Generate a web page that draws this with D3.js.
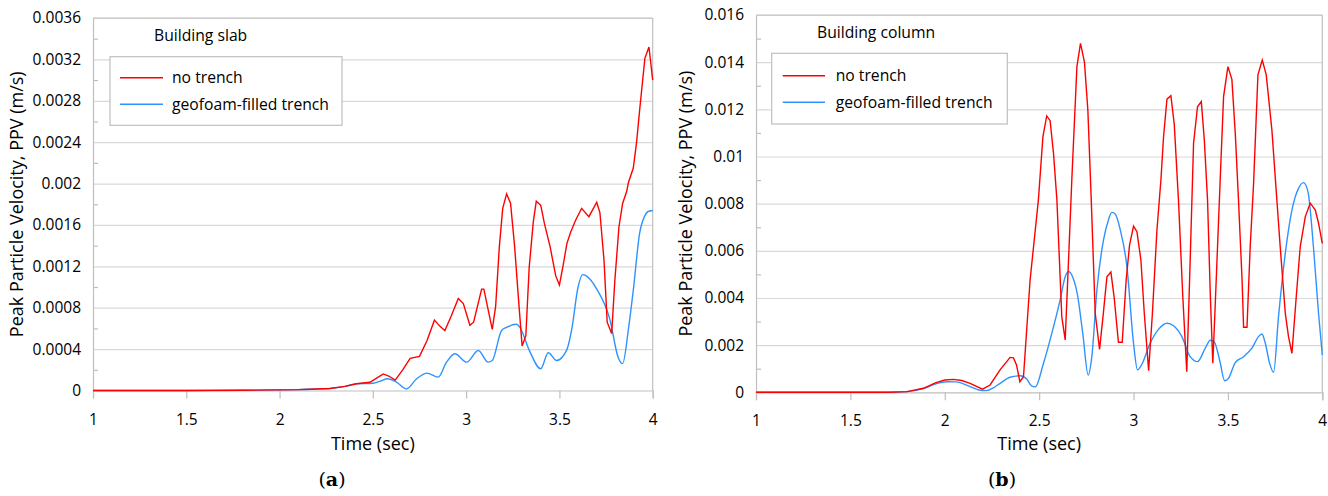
<!DOCTYPE html>
<html><head><meta charset="utf-8">
<script src="https://cdn.jsdelivr.net/npm/d3@7"></script>
<style>
body{margin:0;background:#fff}
svg{display:block}
text{font-family:"Open Sans",sans-serif;fill:#000}
</style>
</head><body>
<svg id="c" width="1328" height="496"></svg>
<script>
// ---------- data ----------
const xTicks = [1, 1.5, 2, 2.5, 3, 3.5, 4];
const xTickLabels = ["1", "1.5", "2", "2.5", "3", "3.5", "4"];
const seriesNames = ["no trench", "geofoam-filled trench"];

const slabYTicks = [0, 0.0004, 0.0008, 0.0012, 0.0016, 0.002, 0.0024, 0.0028, 0.0032, 0.0036];
const slabYTickLabels = ["0", "0.0004", "0.0008", "0.0012", "0.0016", "0.002", "0.0024", "0.0028", "0.0032", "0.0036"];
const columnYTicks = [0, 0.002, 0.004, 0.006, 0.008, 0.01, 0.012, 0.014, 0.016];
const columnYTickLabels = ["0", "0.002", "0.004", "0.006", "0.008", "0.01", "0.012", "0.014", "0.016"];

const slabNoTrenchTime = [1, 1.5, 1.8, 2.0, 2.1, 2.2, 2.27, 2.35, 2.413, 2.485, 2.52, 2.556, 2.585, 2.62, 2.66, 2.70, 2.75, 2.79, 2.83, 2.86, 2.886, 2.92, 2.958, 2.985, 3.02, 3.04, 3.083, 3.095, 3.14, 3.158, 3.178, 3.196, 3.217, 3.238, 3.26, 3.28, 3.30, 3.32, 3.338, 3.36, 3.376, 3.40, 3.42, 3.45, 3.48, 3.50, 3.52, 3.54, 3.56, 3.588, 3.619, 3.658, 3.70, 3.717, 3.739, 3.756, 3.78, 3.797, 3.819, 3.839, 3.86, 3.87, 3.896, 3.913, 3.93, 3.958, 3.98, 4.0];
const slabNoTrench = [0, 0, 0.000003, 0.000006, 0.000008, 0.000014, 0.00002, 0.00004, 0.000065, 0.00008, 0.00012, 0.00016, 0.00014, 0.0001, 0.0002, 0.00031, 0.00033, 0.00048, 0.00068, 0.00062, 0.00058, 0.00072, 0.00089, 0.00084, 0.00063, 0.00066, 0.00098, 0.00098, 0.00059, 0.00081, 0.00139, 0.00176, 0.0019, 0.00181, 0.00139, 0.0009, 0.00043, 0.00053, 0.00119, 0.00163, 0.00183, 0.00179, 0.00161, 0.00139, 0.00111, 0.00102, 0.00121, 0.00142, 0.00153, 0.00165, 0.00176, 0.00168, 0.00182, 0.00172, 0.00126, 0.00066, 0.00055, 0.00106, 0.00158, 0.00181, 0.00192, 0.00201, 0.00215, 0.00239, 0.00271, 0.00321, 0.00332, 0.003];

const slabGeofoamTime = [1, 1.5, 1.8, 2.0, 2.1, 2.2, 2.27, 2.35, 2.413, 2.50, 2.54, 2.58, 2.627, 2.68, 2.735, 2.79, 2.85, 2.895, 2.94, 3.003, 3.065, 3.118, 3.14, 3.19, 3.217, 3.27, 3.288, 3.338, 3.40, 3.44, 3.485, 3.539, 3.565, 3.60, 3.624, 3.642, 3.70, 3.77, 3.815, 3.839, 3.869, 3.896, 3.93, 3.958, 3.975, 4.0];
const slabGeofoam = [0, 0, 0.000003, 0.000006, 0.000008, 0.000014, 0.00002, 0.00004, 0.000065, 0.00007, 0.00009, 0.000113, 0.00008, 0.000016, 0.000113, 0.000168, 0.000129, 0.000274, 0.000355, 0.000274, 0.000387, 0.000274, 0.00029, 0.00058, 0.00061, 0.00064, 0.00061, 0.00039, 0.00021, 0.000365, 0.00029, 0.00039, 0.00058, 0.001, 0.00112, 0.00111, 0.00098, 0.00069, 0.00032, 0.00026, 0.00058, 0.00097, 0.00152, 0.00169, 0.00173, 0.00174];

const columnNoTrenchTime = [1, 1.5, 1.7, 1.8, 1.887, 1.95, 2.0, 2.046, 2.09, 2.134, 2.2, 2.24, 2.293, 2.346, 2.364, 2.38, 2.398, 2.417, 2.452, 2.496, 2.52, 2.54, 2.558, 2.576, 2.594, 2.62, 2.638, 2.655, 2.673, 2.70, 2.719, 2.74, 2.758, 2.776, 2.797, 2.82, 2.84, 2.859, 2.88, 2.897, 2.92, 2.94, 2.961, 2.979, 3.0, 3.018, 3.039, 3.057, 3.08, 3.1, 3.124, 3.145, 3.159, 3.177, 3.198, 3.216, 3.238, 3.261, 3.282, 3.297, 3.318, 3.339, 3.359, 3.375, 3.392, 3.407, 3.42, 3.431, 3.459, 3.477, 3.5, 3.521, 3.539, 3.556, 3.575, 3.583, 3.601, 3.618, 3.636, 3.659, 3.682, 3.703, 3.733, 3.777, 3.804, 3.821, 3.839, 3.862, 3.883, 3.91, 3.936, 3.963, 3.98, 4.0];
const columnNoTrench = [0, 0, 0, 0.00003, 0.00017, 0.0004, 0.00052, 0.00055, 0.0005, 0.00038, 0.00013, 0.00031, 0.00095, 0.00148, 0.00146, 0.00116, 0.00045, 0.00066, 0.00476, 0.00816, 0.01084, 0.01172, 0.01152, 0.01014, 0.00816, 0.0032, 0.00222, 0.00547, 0.009, 0.01381, 0.0148, 0.014, 0.01197, 0.00816, 0.00335, 0.00182, 0.00335, 0.0049, 0.0051, 0.00405, 0.00212, 0.00212, 0.00476, 0.00625, 0.00705, 0.00681, 0.00561, 0.00335, 0.00092, 0.00335, 0.00688, 0.009, 0.01084, 0.01243, 0.01258, 0.01134, 0.00816, 0.00405, 0.00087, 0.00476, 0.01056, 0.01211, 0.01233, 0.0107, 0.00816, 0.00405, 0.00123, 0.00335, 0.009, 0.01254, 0.01381, 0.01327, 0.01098, 0.00816, 0.00476, 0.00276, 0.00276, 0.00617, 0.00886, 0.01346, 0.01409, 0.01346, 0.01112, 0.00617, 0.00335, 0.00236, 0.00165, 0.00405, 0.00617, 0.00745, 0.00802, 0.00773, 0.00717, 0.00632];

const columnGeofoamTime = [1, 1.5, 1.7, 1.8, 1.887, 1.95, 2.01, 2.06, 2.134, 2.18, 2.22, 2.26, 2.293, 2.346, 2.4, 2.435, 2.46, 2.479, 2.523, 2.567, 2.611, 2.638, 2.657, 2.678, 2.703, 2.731, 2.76, 2.779, 2.806, 2.841, 2.867, 2.885, 2.903, 2.93, 2.965, 3.0, 3.021, 3.045, 3.088, 3.133, 3.177, 3.212, 3.256, 3.3, 3.339, 3.38, 3.407, 3.428, 3.456, 3.483, 3.503, 3.539, 3.583, 3.627, 3.662, 3.68, 3.698, 3.721, 3.742, 3.768, 3.804, 3.839, 3.874, 3.9, 3.924, 3.953, 3.98, 4.0];
const columnGeofoam = [0, 0, 0, 0.00003, 0.00016, 0.00035, 0.00045, 0.00044, 0.00024, 0.0001, 0.00007, 0.0002, 0.00038, 0.00064, 0.0007, 0.00055, 0.00027, 0.00023, 0.00123, 0.0025, 0.00391, 0.0049, 0.00511, 0.00488, 0.00413, 0.0025, 0.00073, 0.00151, 0.00434, 0.00646, 0.00731, 0.00763, 0.00756, 0.00688, 0.00533, 0.00208, 0.00095, 0.0012, 0.00208, 0.00268, 0.00293, 0.00282, 0.00236, 0.00151, 0.0013, 0.00187, 0.00221, 0.00213, 0.00137, 0.00049, 0.00059, 0.00126, 0.00151, 0.00187, 0.00236, 0.00247, 0.00208, 0.00123, 0.00085, 0.00321, 0.0059, 0.00773, 0.00865, 0.00889, 0.00851, 0.00617, 0.00335, 0.00158];

// ---------- drawing ----------
const svg = d3.select("#c");
const RED = "#ff0000", BLUE = "#2e93ff", GRID = "#d9d9d9", FRAME = "#bfbfbf";
const TICKFONT = "15.5px", LABFONT = "15.7px", TITLEFONT = "18px";

function zip(t, v) { return t.map((d, i) => ({t: d, v: v[i]})); }

function drawChart(cfg) {
  const g = svg.append("g");
  const x = d3.scaleLinear().domain([1, 4]).range([cfg.x0, cfg.x1]);
  const y = d3.scaleLinear().domain([0, cfg.yMax]).range([cfg.y1, cfg.y0]);
  const w = cfg.x1 - cfg.x0;

  // gridlines
  g.append("g").attr("transform", `translate(${cfg.x0},0)`)
    .call(d3.axisLeft(y).tickValues(cfg.yTicks.slice(1)).tickSize(-w).tickFormat(""))
    .call(a => a.select(".domain").remove())
    .call(a => a.selectAll("line").attr("stroke", GRID).attr("stroke-width", 1.2));

  // minor ticks (inside)
  const minor = cfg.yTicks.slice(0, -1).map((d, i) => (d + cfg.yTicks[i + 1]) / 2);
  g.append("g").attr("transform", `translate(${cfg.x0},0)`)
    .call(d3.axisRight(y).tickValues(minor).tickSize(5).tickFormat(""))
    .call(a => a.select(".domain").remove())
    .call(a => a.selectAll("line").attr("stroke", FRAME).attr("stroke-width", 1.2));

  // frame top / right
  g.append("line").attr("x1", cfg.x0).attr("x2", cfg.x1).attr("y1", cfg.y0).attr("y2", cfg.y0).attr("stroke", FRAME).attr("stroke-width", 1.2);
  g.append("line").attr("x1", cfg.x1).attr("x2", cfg.x1).attr("y1", cfg.y0).attr("y2", cfg.y1).attr("stroke", FRAME).attr("stroke-width", 1.2);

  // y axis labels
  g.append("g").attr("transform", `translate(${cfg.x0},0)`)
    .call(d3.axisLeft(y).tickValues(cfg.yTicks).tickSize(0).tickPadding(12)
      .tickFormat((d, i) => cfg.yTickLabels[i]))
    .call(a => a.select(".domain").attr("stroke", FRAME).attr("stroke-width", 1.2))
    .call(a => a.selectAll("text").style("font-size", TICKFONT).style("font-family", "'Open Sans',sans-serif").attr("fill", "#000"));

  // x axis
  g.append("g").attr("transform", `translate(0,${cfg.y1})`)
    .call(d3.axisBottom(x).tickValues(xTicks).tickSize(8).tickPadding(15)
      .tickFormat((d, i) => xTickLabels[i]))
    .call(a => a.select(".domain").attr("stroke", FRAME).attr("stroke-width", 1.2))
    .call(a => a.selectAll("line").attr("stroke", FRAME).attr("stroke-width", 1.2))
    .call(a => a.selectAll("text").style("font-size", TICKFONT).style("font-family", "'Open Sans',sans-serif").attr("fill", "#000"));

  // lines
  const lineRed = d3.line().x(d => x(d.t)).y(d => y(d.v)).curve(d3.curveLinear);
  const lineBlue = d3.line().x(d => x(d.t)).y(d => y(d.v)).curve(d3.curveMonotoneX);
  g.append("path").datum(zip(cfg.tB, cfg.vB)).attr("d", lineBlue)
    .attr("fill", "none").attr("stroke", BLUE).attr("stroke-width", 1.4);
  g.append("path").datum(zip(cfg.tR, cfg.vR)).attr("d", lineRed)
    .attr("fill", "none").attr("stroke", RED).attr("stroke-width", 1.4);

  // chart title
  g.append("text").attr("x", cfg.titleX).attr("y", cfg.titleY).style("font-size", LABFONT).text(cfg.title);

  // legend
  const L = cfg.legend;
  g.append("rect").attr("x", L.x).attr("y", L.y).attr("width", L.w).attr("height", L.h)
    .attr("fill", "#fff").attr("stroke", FRAME).attr("stroke-width", 1.2);
  [RED, BLUE].forEach((c, i) => {
    const yy = L.y + L.row0 + i * L.dy;
    g.append("line").attr("x1", L.x + L.lx0).attr("x2", L.x + L.lx1).attr("y1", yy).attr("y2", yy)
      .attr("stroke", c).attr("stroke-width", 1.4);
    g.append("text").attr("x", L.x + L.tx).attr("y", yy + 5.5).style("font-size", LABFONT).text(seriesNames[i]);
  });

  // axis titles
  g.append("text").attr("x", (cfg.x0 + cfg.x1) / 2).attr("y", 450).attr("text-anchor", "middle")
    .style("font-size", TITLEFONT).text("Time (sec)");
  g.append("text").attr("transform", `translate(${cfg.yTitleX},${(cfg.y0 + cfg.y1) / 2}) rotate(-90)`)
    .attr("text-anchor", "middle").attr("dy", "0.35em").style("font-size", TITLEFONT)
    .text("Peak Particle Velocity, PPV (m/s)");

  // panel label
  const pl = g.append("text").attr("x", cfg.panelX).attr("y", 486).attr("text-anchor", "middle")
    .style("font-family", "'DejaVu Serif',serif").style("font-size", "19px");
  pl.append("tspan").text("(");
  pl.append("tspan").style("font-weight", "bold").text(cfg.panel);
  pl.append("tspan").text(")");
}

drawChart({
  x0: 93, x1: 652.7, y0: 18, y1: 390.5, yMax: 0.0036,
  yTicks: slabYTicks, yTickLabels: slabYTickLabels,
  tR: slabNoTrenchTime, vR: slabNoTrench, tB: slabGeofoamTime, vB: slabGeofoam,
  title: "Building slab", titleX: 154, titleY: 40.5,
  legend: {x: 110, y: 56.7, w: 232, h: 68.6, row0: 21, dy: 26.6, lx0: 10, lx1: 53, tx: 62},
  yTitleX: 17, panelX: 332, panel: "a"
});
drawChart({
  x0: 756, x1: 1322.3, y0: 15, y1: 392.3, yMax: 0.016,
  yTicks: columnYTicks, yTickLabels: columnYTickLabels,
  tR: columnNoTrenchTime, vR: columnNoTrench, tB: columnGeofoamTime, vB: columnGeofoam,
  title: "Building column", titleX: 817, titleY: 38,
  legend: {x: 771.7, y: 53.3, w: 235.6, h: 70.7, row0: 22.4, dy: 26.6, lx0: 11, lx1: 53.3, tx: 64},
  yTitleX: 686, panelX: 1002, panel: "b"
});
</script>
</body></html>
